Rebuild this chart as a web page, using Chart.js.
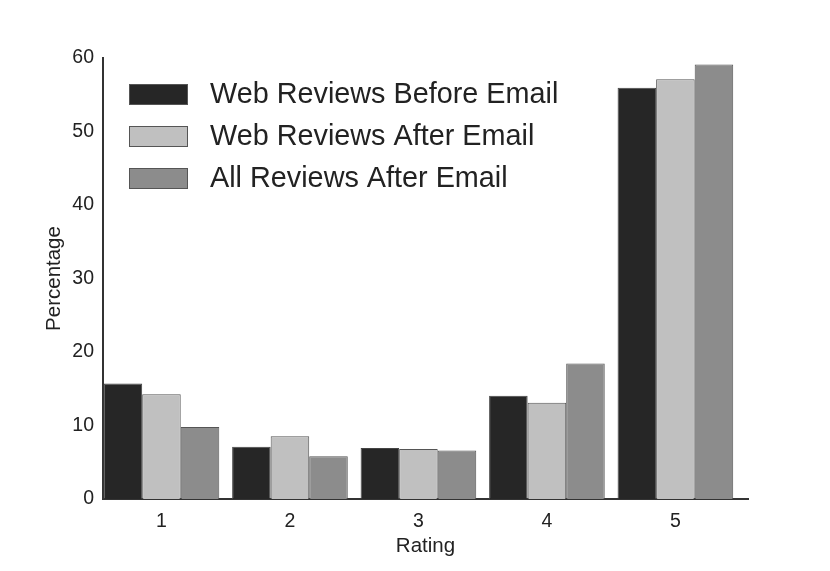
<!DOCTYPE html>
<html>
<head>
<meta charset="utf-8">
<script src="https://cdn.jsdelivr.net/npm/chart.js@4"></script>
<style>
  html, body { margin: 0; padding: 0; background: #fff; }
  #wrap { width: 830px; height: 571px; }
</style>
</head>
<body>
<div id="wrap"><canvas id="myChart" width="830" height="571"></canvas></div>
<script>
const ctx = document.getElementById('myChart');

const ratings = [1, 2, 3, 4, 5]
const webBefore = [15.7, 7.1, 6.95, 14.05, 55.95]
const webAfter = [14.25, 8.55, 6.8, 13.1, 57.1]
const allAfter = [9.8, 5.8, 6.6, 18.45, 59.1]
const seriesNames = ['Web Reviews Before Email', 'Web Reviews After Email', 'All Reviews After Email']
const yTicks = [0, 10, 20, 30, 40, 50, 60]

const colors = ['#262626', '#c0c0c0', '#8c8c8c']
const font = 'Arial, "Liberation Sans", Helvetica, sans-serif'

function pts(vals) {
    return ratings.map((r, i) => ({ x: r, y: vals[i] }))
}

// legend drawn inside the plot, top left
const insideLegend = {
    id: 'insideLegend',
    afterDraw(chart) {
        const c = chart.ctx
        c.save()
        chart.data.datasets.forEach((ds, i) => {
            const cy = 94.5 + i * 42
            c.fillStyle = ds.backgroundColor
            c.fillRect(129.5, cy - 10, 58, 20)
            c.strokeStyle = '#555'
            c.lineWidth = 1
            c.strokeRect(129.5, cy - 10, 58, 20)
            c.fillStyle = '#222'
            c.font = '28.8px ' + font
            c.textBaseline = 'middle'
            c.fillText(ds.label, 210, cy + 1)
        })
        c.restore()
    }
}

let chart_1 = new Chart(ctx, {
    type: 'bar',
    data: {
        datasets: [
            { label: seriesNames[0], data: pts(webBefore), backgroundColor: colors[0], borderColor: '#444', borderWidth: 1 },
            { label: seriesNames[1], data: pts(webAfter), backgroundColor: colors[1], borderColor: '#555', borderWidth: 1 },
            { label: seriesNames[2], data: pts(allAfter), backgroundColor: colors[2], borderColor: '#555', borderWidth: 1 }
        ]
    },
    plugins: [insideLegend],
    options: {
        responsive: false,
        animation: false,
        categoryPercentage: 0.9,
        barPercentage: 1.0,
        layout: { padding: { left: 42, right: 82, top: 58, bottom: 12 } },
        plugins: {
            legend: { display: false },
            tooltip: { enabled: false }
        },
        scales: {
            x: {
                type: 'linear',
                offset: false,
                min: 0.545,
                max: 5.565,
                grid: { display: false, offset: false },
                border: { display: true, color: '#333', width: 2 },
                ticks: {
                    stepSize: 1,
                    includeBounds: false,
                    color: '#222',
                    padding: 3,
                    font: { family: font, size: 19.5 },
                    callback: v => Number.isInteger(v) ? String(v) : ''
                },
                title: {
                    display: true,
                    text: 'Rating',
                    color: '#222',
                    font: { family: font, size: 20.5 },
                    padding: { top: 0, bottom: 0 }
                },
                afterFit: s => { s.height = 60 }
            },
            y: {
                min: 0,
                max: 60,
                afterBuildTicks: s => { s.ticks = yTicks.map(v => ({ value: v })) },
                grid: { display: false, drawTicks: false },
                border: { display: true, color: '#333', width: 2 },
                ticks: {
                    color: '#222',
                    padding: 9,
                    font: { family: font, size: 19.5 }
                },
                title: {
                    display: true,
                    text: 'Percentage',
                    color: '#222',
                    font: { family: font, size: 20.5 },
                    padding: { top: 0, bottom: 4 }
                },
                afterFit: s => { s.width = 61 }
            }
        }
    }
});
</script>
</body>
</html>
